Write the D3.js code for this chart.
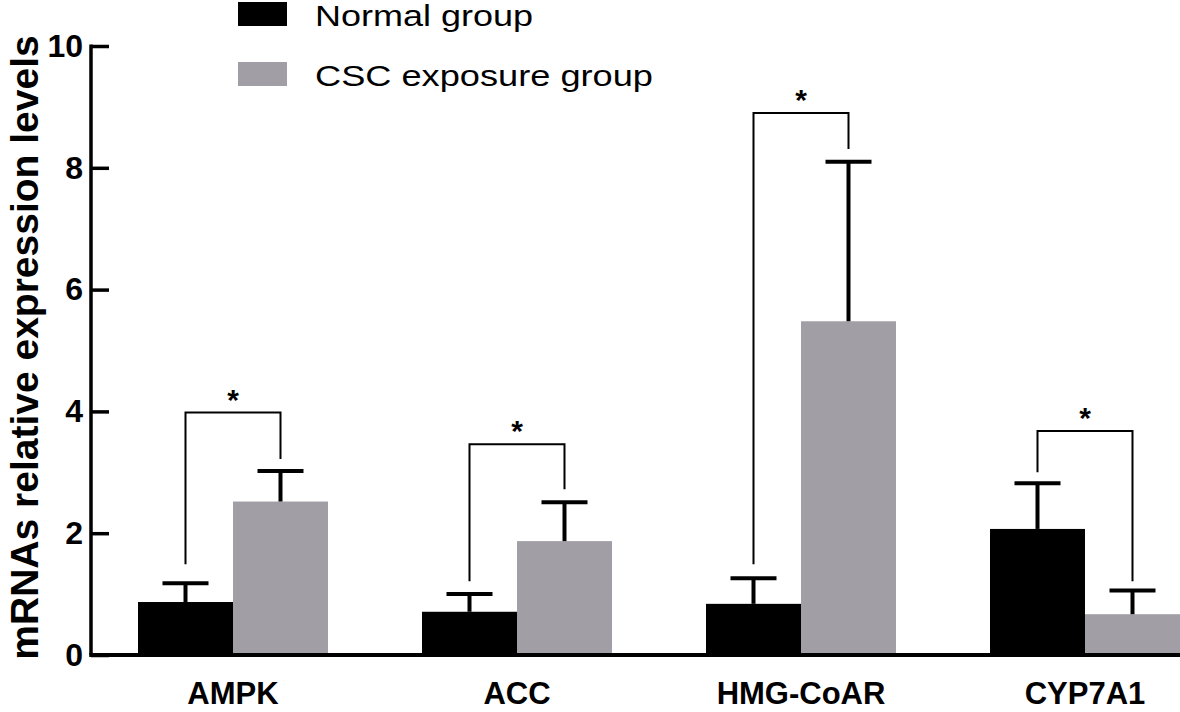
<!DOCTYPE html>
<html>
<head>
<meta charset="utf-8">
<script src="https://cdn.jsdelivr.net/npm/d3@7/dist/d3.min.js"></script>
<style>
  html, body { margin: 0; padding: 0; background: #fff; }
  svg { display: block; font-family: "Liberation Sans", Arial, sans-serif; }
</style>
</head>
<body>
<svg id="chart" width="1180" height="712"></svg>
<script>
// ---- data ----
const categories = ["AMPK", "ACC", "HMG-CoAR", "CYP7A1"];
const seriesNames = ["Normal group", "CSC exposure group"];
const normalMean = [0.87, 0.71, 0.84, 2.07];
const normalErr  = [0.31, 0.29, 0.42, 0.75];
const cscMean    = [2.52, 1.87, 5.48, 0.67];
const cscErr     = [0.50, 0.64, 2.62, 0.39];
const bracketTop       = [3.98, 3.46, 8.90, 3.68];
const bracketLeftEnd   = [1.49, 1.21, 1.49, 3.00];
const bracketRightEnd  = [3.22, 2.72, 8.31, 1.21];
const sigLabels  = ["*", "*", "*", "*"];
const yTicks = [0, 2, 4, 6, 8, 10];
const yLabel = "mRNAs relative expression levels";

// ---- layout ----
const svg = d3.select("#chart");
const colors = ["#000000", "#a19fa5"];
const x0Left = 91, step = 284;
const x0 = d3.scaleBand().domain(categories)
  .range([x0Left, x0Left + step * categories.length])
  .paddingInner(0.331).paddingOuter(0.1655);
const x1 = d3.scaleBand().domain(seriesNames).range([0, x0.bandwidth()]);
const y = d3.scaleLinear().domain([0, 10]).range([655, 46]);

const rows = categories.map((c, i) => ({
  cat: c,
  vals: [
    { s: seriesNames[0], m: normalMean[i], e: normalErr[i] },
    { s: seriesNames[1], m: cscMean[i], e: cscErr[i] }
  ],
  bt: bracketTop[i], bl: bracketLeftEnd[i], br: bracketRightEnd[i], sig: sigLabels[i]
}));

const g = svg.append("g");

// bars
const grp = g.selectAll(".grp").data(rows).join("g")
  .attr("transform", d => `translate(${x0(d.cat)},0)`);
grp.selectAll("rect").data(d => d.vals).join("rect")
  .attr("x", d => x1(d.s))
  .attr("width", x1.bandwidth())
  .attr("y", d => y(d.m))
  .attr("height", d => y(0) - y(d.m))
  .attr("fill", (d, i) => colors[i]);

// error bars (upper only)
const capHalf = 23;
grp.selectAll(".stem").data(d => d.vals).join("line")
  .attr("x1", d => x1(d.s) + x1.bandwidth() / 2)
  .attr("x2", d => x1(d.s) + x1.bandwidth() / 2)
  .attr("y1", d => y(d.m))
  .attr("y2", d => y(d.m + d.e))
  .attr("stroke", "#000").attr("stroke-width", 4);
grp.selectAll(".cap").data(d => d.vals).join("line")
  .attr("x1", d => x1(d.s) + x1.bandwidth() / 2 - capHalf)
  .attr("x2", d => x1(d.s) + x1.bandwidth() / 2 + capHalf)
  .attr("y1", d => y(d.m + d.e))
  .attr("y2", d => y(d.m + d.e))
  .attr("stroke", "#000").attr("stroke-width", 4);

// significance brackets
grp.append("path")
  .attr("d", d => {
    const xl = x1(seriesNames[0]) + x1.bandwidth() / 2;
    const xr = x1(seriesNames[1]) + x1.bandwidth() / 2;
    return `M${xl},${y(d.bl)}V${y(d.bt)}H${xr}V${y(d.br)}`;
  })
  .attr("fill", "none").attr("stroke", "#000").attr("stroke-width", 2);
grp.append("text")
  .attr("x", x0.bandwidth() / 2)
  .attr("y", d => y(d.bt) - 3)
  .attr("text-anchor", "middle")
  .attr("font-size", 30).attr("font-weight", "bold")
  .text(d => d.sig);

// y axis (ticks point inward)
const yAxis = g.append("g").attr("transform", `translate(${x0Left},0)`)
  .call(d3.axisLeft(y).tickValues(yTicks).tickSize(-18).tickPadding(8).tickFormat(d3.format("d")));
yAxis.select(".domain").attr("stroke", "#000").attr("stroke-width", 3.5)
  .attr("d", `M0,${y(10) - 1.5}V${y(0)}`);
yAxis.selectAll(".tick line").attr("stroke", "#000").attr("stroke-width", 3.5);
yAxis.selectAll(".tick text").attr("font-size", 32).attr("font-weight", "bold")
  .attr("fill", "#000").attr("font-family", "Liberation Sans, Arial, sans-serif");

// x axis
const xAxis = g.append("g").attr("transform", `translate(0,${y(0)})`)
  .call(d3.axisBottom(x0).tickSize(0).tickPadding(27));
xAxis.select(".domain").attr("stroke", "#000").attr("stroke-width", 4)
  .attr("d", `M${x0Left - 1.75},0H1180`);
xAxis.selectAll(".tick text").attr("font-size", 31).attr("font-weight", "bold")
  .attr("fill", "#000").attr("font-family", "Liberation Sans, Arial, sans-serif")
  .attr("dy", "0.71em");

// y label
svg.append("text")
  .attr("transform", `translate(38,${(35 + 660) / 2}) rotate(-90)`)
  .attr("text-anchor", "middle")
  .attr("font-size", 39).attr("font-weight", "bold")
  .text(yLabel);

// legend
const legendWidths = [218, 338];
const leg = svg.append("g").selectAll("g").data(seriesNames).join("g")
  .attr("transform", (d, i) => `translate(238,${2 + i * 60})`);
leg.append("rect").attr("width", 49).attr("height", 24)
  .attr("fill", (d, i) => colors[i]);
leg.append("text").attr("x", 77).attr("y", 24)
  .attr("font-size", 30)
  .attr("textLength", (d, i) => legendWidths[i])
  .attr("lengthAdjust", "spacingAndGlyphs")
  .text(d => d);
</script>
</body>
</html>
